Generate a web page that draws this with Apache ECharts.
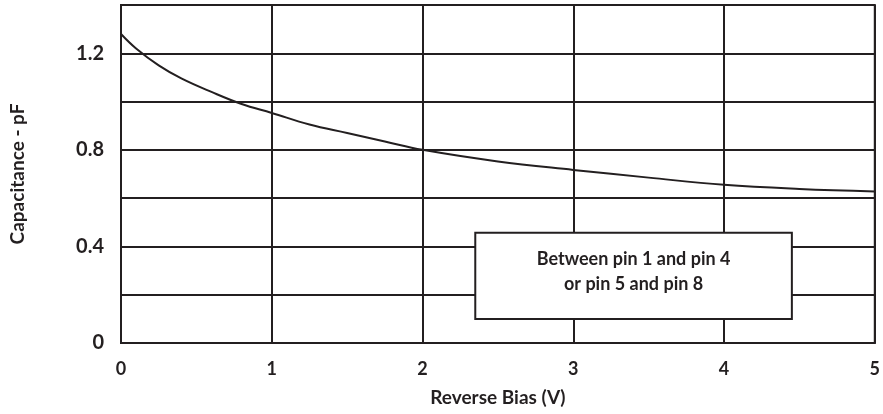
<!DOCTYPE html>
<html>
<head>
<meta charset="utf-8">
<script src="https://cdn.jsdelivr.net/npm/echarts@6/dist/echarts.min.js"></script>
<style>html,body{margin:0;padding:0;background:#fff}#c{width:883px;height:414px}</style>
</head>
<body>
<div id="c"></div>
<script>
const biasV = [0, 0.1, 0.25, 0.4, 0.6, 0.8, 1.0, 1.25, 1.5, 1.75, 2.0, 2.5, 3.0, 3.5, 4.0, 4.5, 5.0];
const capPF = [1.28, 1.22, 1.15, 1.096, 1.04, 0.99, 0.953, 0.905, 0.87, 0.835, 0.80, 0.752, 0.717, 0.685, 0.655, 0.638, 0.628];
const yTickLabels = ['0', '0.4', '0.8', '1.2'];
const xTickLabels = ['0', '1', '2', '3', '4', '5'];
const noteText = 'Between pin 1 and pin 4\nor pin 5 and pin 8';
const noteBox = [[2.35, 0.457], [4.45, 0.099]];

const ink = '#231f20';
const font = 'Lato, "Open Sans", sans-serif';
const chart = echarts.init(document.getElementById('c'), null, {renderer: 'canvas'});
chart.setOption({
  animation: false,
  grid: {left: 121, right: 7, top: 5, bottom: 71, show: true, borderColor: ink, borderWidth: 2, backgroundColor: 'transparent'},
  xAxis: {
    type: 'value', min: 0, max: 5, interval: 1,
    name: 'Reverse Bias (V)', nameLocation: 'middle', nameGap: 45,
    nameTextStyle: {fontFamily: font, fontWeight: 'bold', fontSize: 19, color: ink},
    axisLine: {show: true, lineStyle: {color: ink, width: 2}},
    axisTick: {show: false},
    splitLine: {show: true, lineStyle: {color: ink, width: 2}},
    axisLabel: {margin: 17, fontFamily: font, fontWeight: 'bold', fontSize: 18, color: ink,
      formatter: v => xTickLabels[Math.round(v)] ?? ''}
  },
  yAxis: {
    type: 'value', min: 0, max: 1.4, interval: 0.2,
    name: 'Capacitance - pF', nameLocation: 'middle', nameGap: 94, nameRotate: 90,
    nameTextStyle: {fontFamily: font, fontWeight: 'bold', fontSize: 19, color: ink},
    axisLine: {show: true, lineStyle: {color: ink, width: 2}},
    axisTick: {show: false},
    splitLine: {show: true, lineStyle: {color: ink, width: 2}},
    axisLabel: {margin: 17, fontFamily: font, fontWeight: 'bold', fontSize: 20, color: ink,
      formatter: v => {
        const s = (Math.round(v * 10) / 10);
        const str = s === 0 ? '0' : s.toFixed(1);
        return yTickLabels.includes(str) ? str : '';
      }}
  },
  series: [{
    type: 'line',
    data: biasV.map((x, i) => [x, capPF[i]]),
    smooth: 0.4,
    showSymbol: false,
    lineStyle: {color: ink, width: 2},
    z: 3,
    markArea: {
      silent: true,
      itemStyle: {color: '#ffffff', borderColor: ink, borderWidth: 2},
      label: {show: true, position: 'inside', offset: [0, -4], fontFamily: font, fontWeight: 'bold', fontSize: 18, color: ink, lineHeight: 25, align: 'center'},
      data: [[{xAxis: noteBox[0][0], yAxis: noteBox[0][1], name: noteText}, {xAxis: noteBox[1][0], yAxis: noteBox[1][1]}]]
    }
  }]
});
</script>
</body>
</html>
